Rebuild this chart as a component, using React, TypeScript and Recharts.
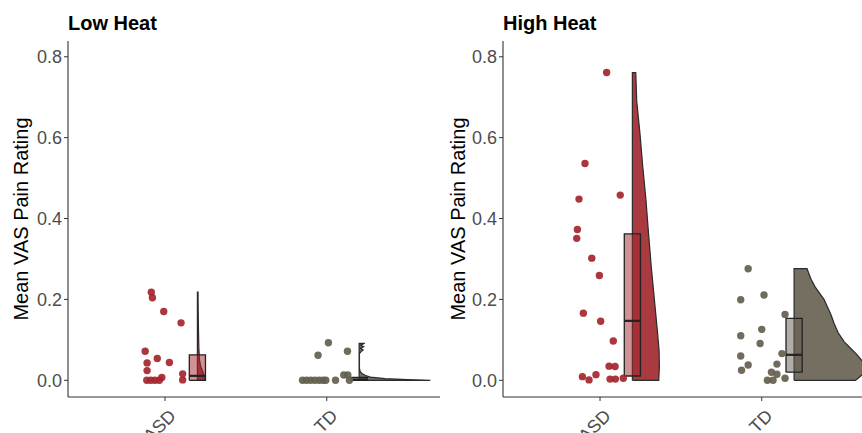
import React from 'react';
import { ComposedChart, Scatter, XAxis, YAxis } from 'recharts';

const groups = ['ASD', 'TD'];
const yTicks = [0, 0.2, 0.4, 0.6, 0.8];

// jittered raw points: [offset from group centre, mean VAS rating]
const lowAsdPoints = [
  [-0.085, 0.218], [-0.078, 0.204], [-0.008, 0.17], [0.099, 0.142], [-0.123, 0.072],
  [-0.048, 0.054], [-0.111, 0.043], [0.027, 0.044], [-0.111, 0.024], [0.109, 0.016],
  [-0.02, 0.007], [0.109, 0.001], [-0.113, 0], [-0.088, 0], [-0.062, 0], [-0.035, 0],
];
const lowTdPoints = [
  [0.01, 0.093], [-0.054, 0.062], [0.128, 0.072], [0.105, 0.013], [0.13, 0.013],
  [0.14, 0], [0.054, 0], [-0.15, 0], [-0.125, 0], [-0.1, 0], [-0.074, 0],
  [-0.047, 0], [-0.023, 0], [-0.006, 0],
];
const highAsdPoints = [
  [0.041, 0.761], [-0.093, 0.536], [-0.13, 0.448], [0.125, 0.458], [-0.14, 0.373],
  [-0.144, 0.351], [-0.051, 0.302], [-0.004, 0.259], [-0.103, 0.166], [0.004, 0.146],
  [0.082, 0.097], [0.056, 0.035], [0.093, 0.034], [-0.109, 0.009], [-0.068, 0.001],
  [-0.025, 0.014], [0.062, 0.003], [0.095, 0.003], [0.144, 0.005],
];
const highTdPoints = [
  [-0.084, 0.276], [-0.13, 0.199], [0.014, 0.211], [0.144, 0.163], [0, 0.126],
  [-0.13, 0.11], [-0.01, 0.091], [0.125, 0.066], [-0.13, 0.06], [-0.084, 0.038],
  [-0.125, 0.025], [0.094, 0.04], [0.06, 0.02], [0.094, 0.015], [0.035, 0],
  [0.07, 0], [0.144, 0.005],
];

// box stats: [lower hinge, median, upper hinge]
const lowAsdBox = [0, 0.011, 0.063];
const lowTdBox = [0, 0.002, 0.007];
const highAsdBox = [0.0106, 0.147, 0.362];
const highTdBox = [0.02, 0.063, 0.153];

// half-violin outline: [rating, half width], bottom to top
const lowAsdViolin = [
  [0, 0.045], [0.008, 0.045], [0.02, 0.035], [0.035, 0.02], [0.05, 0.013],
  [0.08, 0.009], [0.12, 0.007], [0.17, 0.005], [0.218, 0.004],
];
const lowTdViolin = [
  [0, 0.44], [0.002, 0.3], [0.004, 0.16], [0.008, 0.07], [0.012, 0.04],
  [0.016, 0.02], [0.022, 0.006], [0.03, 0.002], [0.066, 0.002], [0.071, 0.012],
  [0.075, 0.025], [0.079, 0.008], [0.083, 0.028], [0.087, 0.008], [0.0915, 0.035],
];
const highAsdViolin = [
  [0, 0.163], [0.034, 0.167], [0.075, 0.165], [0.116, 0.156], [0.2, 0.136],
  [0.28, 0.117], [0.363, 0.1], [0.446, 0.084], [0.53, 0.064], [0.61, 0.047],
  [0.69, 0.027], [0.761, 0.021],
];
const highTdViolin = [
  [0, 0.38], [0.013, 0.42], [0.03, 0.44], [0.046, 0.425], [0.063, 0.39],
  [0.083, 0.34], [0.095, 0.31], [0.116, 0.275], [0.141, 0.247], [0.16, 0.23],
  [0.182, 0.206], [0.2, 0.185], [0.231, 0.13], [0.25, 0.105], [0.276, 0.08],
];

const HEIGHT = 433;
const FONT = '"Liberation Sans", Arial, Helvetica, sans-serif';
const AXIS = '#333333';
const OUTLINE = '#2b2b2b';
const ASD = { point: '#a3262d', violin: '#a83a40', box: '#a3262d' };
const TD = { point: '#645e4d', violin: '#756f62', box: '#645e4d' };

const VIOLIN_OFFSET = 0.2;
const BOX_LEFT = 0.15;
const BOX_RIGHT = 0.25;

const toPoints = (g: number, pts: number[][]) => pts.map(([dx, y]) => ({ x: g + dx, y }));

const violinOutline = (g: number, prof: number[][]) => {
  const base = g + VIOLIN_OFFSET;
  const bottom = prof[0][0];
  const top = prof[prof.length - 1][0];
  return [
    { x: base, y: bottom },
    ...prof.map(([y, w]) => ({ x: base + w, y })),
    { x: base, y: top },
    { x: base, y: bottom },
  ];
};

const boxOutline = (g: number, [lo, , hi]: number[]) => [
  { x: g + BOX_LEFT, y: lo },
  { x: g + BOX_RIGHT, y: lo },
  { x: g + BOX_RIGHT, y: hi },
  { x: g + BOX_LEFT, y: hi },
  { x: g + BOX_LEFT, y: lo },
];

const medianLine = (g: number, [, med]: number[]) => [
  { x: g + BOX_LEFT, y: med },
  { x: g + BOX_RIGHT, y: med },
];

const noShape = () => <g />;
const dot = (fill: string) => (p: any) => (
  <circle cx={p.cx} cy={p.cy} r={3.7} fill={fill} fillOpacity={0.92} />
);

const XTick = ({ x, y, payload }: any) => (
  <text
    x={0}
    y={0}
    transform={`translate(${x + 12},${y + 14}) rotate(-45)`}
    textAnchor="end"
    fontSize={18}
    fontFamily={FONT}
    fill="#4d4d4d"
  >
    {groups[payload.value - 1]}
  </text>
);

interface GroupSet {
  pos: number;
  colors: { point: string; violin: string; box: string };
  points: number[][];
  box: number[];
  violin: number[][];
}

interface PanelProps {
  title: string;
  width: number;
  axisWidth: number;
  rightMargin: number;
  xMax: number;
  labelX: number;
  sets: GroupSet[];
}

const Panel = ({ title, width, axisWidth, rightMargin, xMax, labelX, sets }: PanelProps) => {
  const series: React.ReactNode[] = [];
  sets.forEach((s, i) => {
    series.push(
      <Scatter
        key={`v${i}`}
        data={violinOutline(s.pos, s.violin)}
        shape={noShape}
        line={{ fill: s.colors.violin, stroke: OUTLINE, strokeWidth: 1.2 }}
        isAnimationActive={false}
      />
    );
  });
  sets.forEach((s, i) => {
    series.push(
      <Scatter
        key={`b${i}`}
        data={boxOutline(s.pos, s.box)}
        shape={noShape}
        line={{ fill: s.colors.box, fillOpacity: 0.5, stroke: '#222', strokeWidth: 1.3 }}
        isAnimationActive={false}
      />,
      <Scatter
        key={`m${i}`}
        data={medianLine(s.pos, s.box)}
        shape={noShape}
        line={{ stroke: '#222', strokeWidth: 2.2 }}
        isAnimationActive={false}
      />
    );
  });
  sets.forEach((s, i) => {
    series.push(
      <Scatter
        key={`p${i}`}
        data={toPoints(s.pos, s.points)}
        shape={dot(s.colors.point)}
        isAnimationActive={false}
      />
    );
  });

  return (
    <div style={{ position: 'relative', width, height: HEIGHT, flex: 'none' }}>
      <ComposedChart
        width={width}
        height={HEIGHT}
        margin={{ top: 41, right: rightMargin, bottom: 0, left: 0 }}
      >
        <XAxis
          type="number"
          dataKey="x"
          domain={[0.4, xMax]}
          ticks={[1, 2]}
          allowDataOverflow
          height={36}
          tickSize={4}
          tickMargin={2}
          tick={<XTick />}
          axisLine={{ stroke: AXIS, strokeWidth: 1.1 }}
          tickLine={{ stroke: AXIS }}
        />
        <YAxis
          type="number"
          dataKey="y"
          domain={[-0.0413, 0.839]}
          ticks={yTicks}
          allowDataOverflow
          width={axisWidth}
          tickSize={4}
          tickMargin={2}
          tickFormatter={(v: number) => v.toFixed(1)}
          tick={{ fill: '#4d4d4d', fontSize: 18, fontFamily: FONT }}
          axisLine={{ stroke: AXIS, strokeWidth: 1.1 }}
          tickLine={{ stroke: AXIS }}
        />
        {series}
      </ComposedChart>
      <div
        style={{
          position: 'absolute',
          left: axisWidth,
          top: 13,
          fontFamily: FONT,
          fontWeight: 'bold',
          fontSize: 20,
          lineHeight: '20px',
          color: '#000',
          whiteSpace: 'nowrap',
        }}
      >
        {title}
      </div>
      <div
        style={{
          position: 'absolute',
          left: labelX - 150,
          top: 219 - 12,
          width: 300,
          height: 24,
          lineHeight: '24px',
          textAlign: 'center',
          transform: 'rotate(-90deg)',
          fontFamily: FONT,
          fontSize: 20,
          color: '#000',
          whiteSpace: 'nowrap',
        }}
      >
        Mean VAS Pain Rating
      </div>
    </div>
  );
};

export default function App() {
  return (
    <div
      style={{
        position: 'absolute',
        left: 0,
        top: 0,
        width: 862,
        height: HEIGHT,
        display: 'flex',
        background: '#fff',
        overflow: 'hidden',
      }}
    >
      <Panel
        title="Low Heat"
        width={446}
        axisWidth={68}
        rightMargin={6}
        xMax={2.7}
        labelX={21}
        sets={[
          { pos: 1, colors: ASD, points: lowAsdPoints, box: lowAsdBox, violin: lowAsdViolin },
          { pos: 2, colors: TD, points: lowTdPoints, box: lowTdBox, violin: lowTdViolin },
        ]}
      />
      <Panel
        title="High Heat"
        width={416}
        axisWidth={57}
        rightMargin={0}
        xMax={2.62}
        labelX={11.5}
        sets={[
          { pos: 1, colors: ASD, points: highAsdPoints, box: highAsdBox, violin: highAsdViolin },
          { pos: 2, colors: TD, points: highTdPoints, box: highTdBox, violin: highTdViolin },
        ]}
      />
    </div>
  );
}
